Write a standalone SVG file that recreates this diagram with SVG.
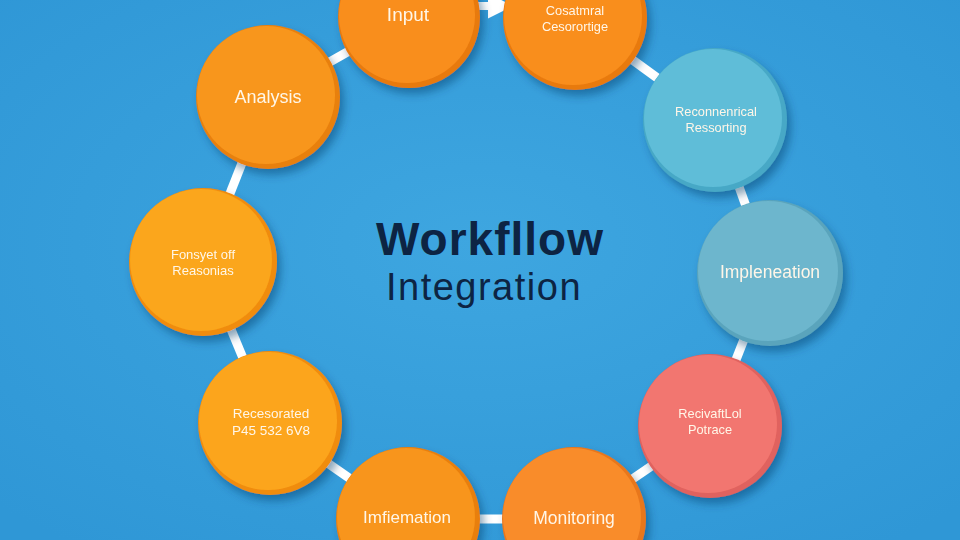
<svg xmlns="http://www.w3.org/2000/svg" width="960" height="540" viewBox="0 0 960 540">
<defs>
<filter id="sh" x="-30%" y="-30%" width="160%" height="160%">
<feGaussianBlur in="SourceAlpha" stdDeviation="4"/>
<feOffset dx="4" dy="6" result="b"/>
<feFlood flood-color="#0a3a66" flood-opacity="0.45"/>
<feComposite in2="b" operator="in"/>
<feMerge><feMergeNode/><feMergeNode in="SourceGraphic"/></feMerge>
</filter>
<marker id="arr" viewBox="0 0 10 10" refX="6" refY="5" markerWidth="3.2" markerHeight="3.2" orient="auto">
<path d="M0,0 L10,5 L0,10 z" fill="#ffffff"/>
</marker>
<radialGradient id="bg" cx="50%" cy="45%" r="70%">
<stop offset="0" stop-color="#3ea6e0"/>
<stop offset="1" stop-color="#2f97d6"/>
</radialGradient>
</defs>
<style>
.lbl{font-family:"Liberation Sans","Open Sans",Arial,sans-serif;fill:#fff6e8;text-anchor:middle;dominant-baseline:middle}
.s1{font-size:17px}
.s2{font-size:12.8px}
.con{stroke:#ffffff;stroke-width:9;fill:none}
.ttl{font-family:"Liberation Sans",Arial,sans-serif;fill:#0d2443;text-anchor:middle}
</style>
<rect width="960" height="540" fill="url(#bg)"/>
<g id="connectors">
<line class="con" x1="268" y1="97" x2="409" y2="17"/>
<line class="con" x1="575" y1="18" x2="715" y2="120"/>
<line class="con" x1="715" y1="120" x2="770" y2="273"/>
<line class="con" x1="770" y1="273" x2="710" y2="426"/>
<line class="con" x1="710" y1="426" x2="574" y2="519"/>
<line class="con" x1="574" y1="519" x2="408" y2="519"/>
<line class="con" x1="408" y1="519" x2="270" y2="423"/>
<line class="con" x1="270" y1="423" x2="203" y2="262"/>
<line class="con" x1="203" y1="262" x2="268" y2="97"/>
<path d="M474,6 L503,6" stroke="#ffffff" stroke-width="8" fill="none" marker-end="url(#arr)"/>
</g>
<g id="n-input" filter="url(#sh)">
<circle cx="409" cy="17" r="71" fill="#e87a10"/>
<circle cx="407" cy="15" r="68" fill="#f98e1c"/>
<text class="lbl" style="font-size:19px" x="408" y="16">Input</text>
</g>
<g id="n-cosatmral" filter="url(#sh)">
<circle cx="575" cy="18" r="72" fill="#e87a10"/>
<circle cx="573" cy="16" r="69" fill="#f98e1c"/>
<text class="lbl s2" x="575" y="12">Cosatmral</text>
<text class="lbl s2" x="575" y="28">Cesorortige</text>
</g>
<g id="n-reconnenrical" filter="url(#sh)">
<circle cx="715" cy="120" r="72" fill="#47a8c6"/>
<circle cx="713" cy="118" r="69" fill="#5ebdd8"/>
<text class="lbl s2" x="716" y="113">Reconnenrical</text>
<text class="lbl s2" x="716" y="129">Ressorting</text>
</g>
<g id="n-impleneation" filter="url(#sh)">
<circle cx="770" cy="273" r="73" fill="#5aa4bc"/>
<circle cx="768" cy="271" r="70" fill="#6db6cd"/>
<text class="lbl" style="font-size:17.5px" x="770" y="273">Impleneation</text>
</g>
<g id="n-recivaftlol" filter="url(#sh)">
<circle cx="710" cy="426" r="72" fill="#e0625e"/>
<circle cx="708" cy="424" r="69" fill="#f2766f"/>
<text class="lbl s2" x="710" y="415">RecivaftLol</text>
<text class="lbl s2" x="710" y="431">Potrace</text>
</g>
<g id="n-monitoring" filter="url(#sh)">
<circle cx="574" cy="519" r="72" fill="#e8771c"/>
<circle cx="572" cy="517" r="69" fill="#f98c2a"/>
<text class="lbl" style="font-size:17.5px" x="574" y="519">Monitoring</text>
</g>
<g id="n-imfiemation" filter="url(#sh)">
<circle cx="408" cy="519" r="72" fill="#e87f10"/>
<circle cx="406" cy="517" r="69" fill="#f8951a"/>
<text class="lbl" style="font-size:17px" x="407" y="519">Imfiemation</text>
</g>
<g id="n-recesorated" filter="url(#sh)">
<circle cx="270" cy="423" r="72" fill="#f08c10"/>
<circle cx="268" cy="421" r="69" fill="#fca51c"/>
<text class="lbl" style="font-size:13.5px" x="271" y="414">Recesorated</text>
<text class="lbl" style="font-size:13.5px" x="271" y="431">P45 532 6V8</text>
</g>
<g id="n-fonsyet" filter="url(#sh)">
<circle cx="203" cy="262" r="74" fill="#f08c10"/>
<circle cx="201" cy="260" r="71" fill="#fba61a"/>
<text class="lbl" style="font-size:13px" x="203" y="256">Fonsyet off</text>
<text class="lbl" style="font-size:13px" x="203" y="272">Reasonias</text>
</g>
<g id="n-analysis" filter="url(#sh)">
<circle cx="268" cy="97" r="72" fill="#e8800f"/>
<circle cx="266" cy="95" r="69" fill="#f8961c"/>
<text class="lbl" style="font-size:18px" x="268" y="98">Analysis</text>
</g>
<g id="title">
<text class="ttl" x="490" y="255" style="font-weight:bold;font-size:46px;letter-spacing:1px">Workfllow</text>
<text class="ttl" x="484" y="300" style="font-size:38px;letter-spacing:1.5px">Integration</text>
</g>
</svg>
